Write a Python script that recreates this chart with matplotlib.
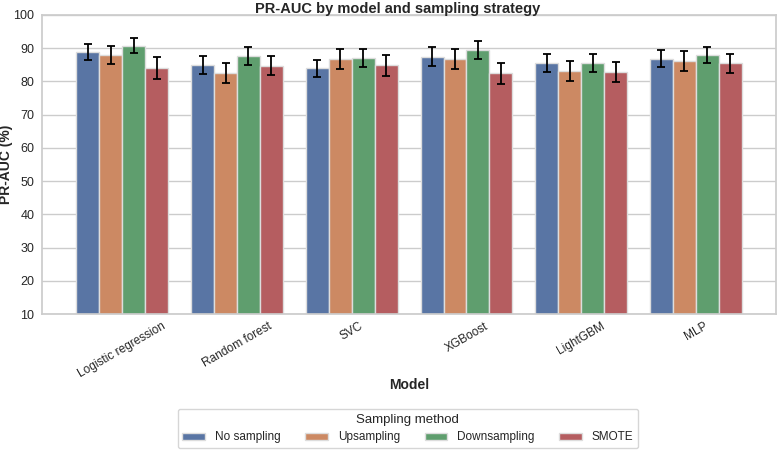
import matplotlib
matplotlib.use("Agg")
import matplotlib.pyplot as plt
import numpy as np
import seaborn as sns

models = ["Logistic regression", "Random forest", "SVC", "XGBoost", "LightGBM", "MLP"]
methods = ["No sampling", "Upsampling", "Downsampling", "SMOTE"]

# mean PR-AUC (%) per model, one list per sampling method
no_sampling = [88.8, 84.8, 83.9, 87.4, 85.5, 86.8]
upsampling = [87.9, 82.5, 86.7, 86.8, 83.2, 86.1]
downsampling = [90.7, 87.5, 87.1, 89.3, 85.4, 88.0]
smote = [84.0, 84.7, 84.8, 82.4, 82.9, 85.4]

# error bar half-widths
no_sampling_err = [2.5, 2.7, 2.6, 2.8, 2.6, 2.6]
upsampling_err = [2.6, 3.1, 3.0, 3.0, 3.0, 2.9]
downsampling_err = [2.3, 2.7, 2.7, 2.7, 2.7, 2.4]
smote_err = [3.2, 2.8, 3.1, 3.2, 3.0, 2.8]

means = [no_sampling, upsampling, downsampling, smote]
errs = [no_sampling_err, upsampling_err, downsampling_err, smote_err]

sns.set_theme(style="whitegrid")
plt.rcParams['font.family'] = ['Liberation Sans', 'DejaVu Sans']
colors = [sns.desaturate(c, 0.75) for c in sns.color_palette("deep", 4)]

fig = plt.figure(figsize=(7.77, 4.5), dpi=100)
ax = fig.add_axes([0.054, 0.302, 0.945, 0.665])

x = np.arange(len(models))
width = 0.2
for i, (m, e) in enumerate(zip(means, errs)):
    pos = x + (i - 1.5) * width
    ax.bar(pos, m, width, color=colors[i], edgecolor='#dddddd', linewidth=1,
           label=methods[i], zorder=2)
    ax.errorbar(pos, m, yerr=e, fmt='none', ecolor='black', elinewidth=1.3,
                capsize=3, capthick=1.3, zorder=3)

ax.set_ylim(10, 100)
ax.set_xlim(-0.7, 5.7)
ax.set_xticks(x)
ax.set_xticklabels(models, rotation=30, ha='center', fontsize=8.6)
ax.tick_params(axis='y', labelsize=9, length=0, pad=5.5)
ax.tick_params(axis='x', length=0, pad=4.5)
ax.set_xlabel("Model", fontsize=10, fontweight='bold')
ax.xaxis.set_label_coords(0.5, -0.215)
ax.set_ylabel("PR-AUC (%)", fontsize=10, fontweight='bold')
ax.yaxis.set_label_coords(-0.04, 0.5)
ax.set_title("PR-AUC by model and sampling strategy", fontsize=10.5,
             fontweight='bold', pad=1, x=0.485)
ax.grid(axis='x', visible=False)

handles, labels = ax.get_legend_handles_labels()
fig.legend(handles, labels, title="Sampling method", loc='lower center',
           bbox_to_anchor=(0.525, 0.004), ncol=4, fontsize=8.5, title_fontsize=9.5,
           frameon=True, borderaxespad=0, handlelength=1.9, handleheight=0.6,
           handletextpad=0.85, columnspacing=2.1)

fig.savefig("out.png", dpi=100)
